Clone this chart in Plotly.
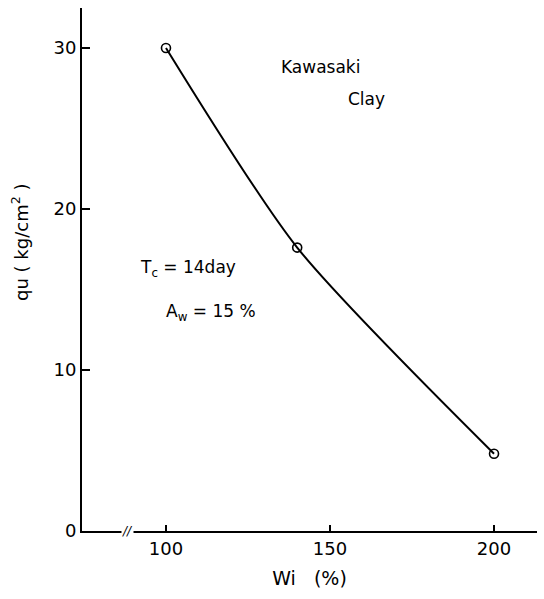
import plotly.graph_objects as go

# Unconfined compressive strength vs. initial water content
wi_percent = [100, 140, 200]
qu_kg_cm2 = [30.0, 17.6, 4.8]

x_ticks = [100, 150, 200]
y_ticks = [0, 10, 20, 30]

FONT = "DejaVu Sans"

fig = go.Figure()

fig.add_trace(go.Scatter(
    x=wi_percent,
    y=qu_kg_cm2,
    mode="lines+markers",
    line=dict(color="black", width=2, shape="spline", smoothing=0.7),
    marker=dict(symbol="circle-open", size=9, color="black", line=dict(width=1.6)),
    showlegend=False,
    hoverinfo="skip",
))

annotations = [
    dict(x=147, y=28.8, text="Kawasaki"),
    dict(x=161, y=26.8, text="Clay"),
    dict(x=106.8, y=16.3, text="T<sub>c</sub> = 14day"),
    dict(x=113.6, y=13.6, text="A<sub>w</sub> = 15 %"),
]
for a in annotations:
    fig.add_annotation(
        x=a["x"], y=a["y"], text=a["text"], showarrow=False,
        font=dict(family=FONT, size=17, color="black"),
        xref="x", yref="y",
    )

# axis break symbol on the x axis
fig.add_annotation(
    x=88.3, y=0, text="<i>//</i>", showarrow=False,
    font=dict(family=FONT, size=12, color="black"),
    xref="x", yref="y", bgcolor="white", borderpad=0,
)

# y axis title
fig.add_annotation(
    x=-0.136, y=0.551, xref="paper", yref="paper",
    xanchor="center", yanchor="middle",
    text="qu ( kg/cm<sup>2</sup> )", textangle=-90, showarrow=False,
    font=dict(family=FONT, size=18, color="black"),
)

fig.update_xaxes(
    range=[74.4, 213.1],
    tickvals=x_ticks,
    ticktext=[str(v) for v in x_ticks],
    ticks="inside", ticklen=6, tickwidth=1.5, tickcolor="black",
    showline=True, linecolor="black", linewidth=2,
    showgrid=False, zeroline=False,
    tickfont=dict(family=FONT, size=18, color="black"),
    title=dict(text="Wi   (%)", font=dict(family=FONT, size=19, color="black"), standoff=14),
)
fig.update_yaxes(
    range=[0, 32.48],
    tickvals=y_ticks,
    ticktext=[str(v) for v in y_ticks],
    ticks="inside", ticklen=8, tickwidth=1.5, tickcolor="black",
    showline=True, linecolor="black", linewidth=2,
    showgrid=False, zeroline=False,
    tickfont=dict(family=FONT, size=18, color="black"),
)

fig.update_layout(
    width=544, height=599,
    margin=dict(l=82, r=7, t=8, b=68),
    paper_bgcolor="white", plot_bgcolor="white",
)

fig.write_html("out.html")
